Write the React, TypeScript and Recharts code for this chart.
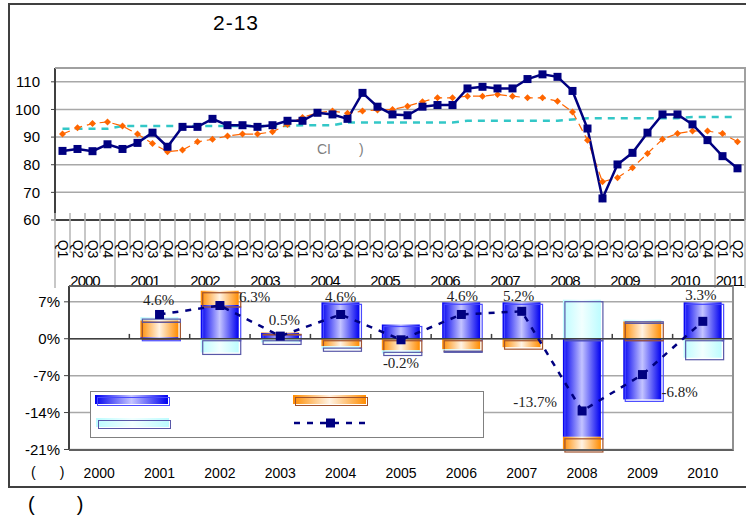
import React from 'react';
import { Bar, CartesianGrid, ComposedChart, LabelList, Line, ReferenceLine, XAxis, YAxis } from 'recharts';

// top panel: quarterly index 2000Q1 - 2011Q2
const YEARS = ['2000', '2001', '2002', '2003', '2004', '2005', '2006', '2007', '2008', '2009', '2010', '2011'];
const QUARTERS = ['Q1', 'Q2', 'Q3', 'Q4'];
const CI_INDEX = [
    85.0, 85.7, 84.9, 87.4, 85.7, 87.9, 91.6, 86.5, 93.7, 93.7, 96.6, 94.3,
    94.3, 93.7, 94.3, 95.9, 95.9, 98.8, 98.2, 96.6, 106.0, 101.0, 98.2, 97.9,
    101.0, 101.6, 101.6, 107.6, 108.2, 107.6, 107.6, 111.0, 112.7, 111.8, 106.7, 93.1,
    67.8, 80.1, 84.3, 91.6, 98.2, 98.2, 94.6, 88.9, 83.1, 78.7
];
const CI_LAGGED = [
    91.1, 93.4, 94.9, 95.5, 94.0, 91.1, 87.7, 84.7, 85.3, 88.3, 89.2, 90.4,
    91.1, 91.1, 91.9, 94.6, 97.1, 98.8, 99.4, 98.6, 99.4, 99.8, 100.0, 101.2,
    102.8, 104.2, 104.2, 104.8, 104.8, 105.4, 104.8, 104.2, 104.2, 103.0, 99.1, 88.9,
    73.8, 75.3, 78.9, 84.1, 89.2, 91.3, 92.2, 92.2, 91.3, 88.3
];
const CI_TREND = [
    93.0, 93.0, 93.0, 93.0, 94.0, 94.0, 94.0, 94.0, 94.0, 94.0, 94.0, 94.0,
    94.0, 94.0, 94.0, 94.0, 94.3, 94.3, 94.3, 95.3, 95.3, 95.3, 95.3, 95.3,
    95.3, 95.3, 95.3, 95.9, 95.9, 95.9, 95.9, 95.9, 95.9, 95.9, 96.4, 96.8,
    96.8, 96.8, 96.8, 96.8, 96.8, 96.8, 97.3, 97.3, 97.3, 97.3
];
const TOP_TICKS = [60, 70, 80, 90, 100, 110];

// bottom panel: yearly growth and contributions
const BAR_YEARS = ['2000', '2001', '2002', '2003', '2004', '2005', '2006', '2007', '2008', '2009', '2010'];
const CONTRIB_BLUE = [0, 0.3, 6.4, 1.1, 6.9, 2.7, 6.9, 6.9, -18.6, -11.5, 6.9];
const CONTRIB_ORANGE = [0, 3.2, 2.7, 0.1, -1.4, -2.2, -2.0, -1.6, -2.5, 3.3, 0];
const CONTRIB_CYAN = [0, 0.6, -2.6, -0.7, -0.6, -0.6, -0.2, 0, 7.4, 0.3, -3.6];
const GROWTH = [null, 4.6, 6.3, 0.5, 4.6, -0.2, 4.6, 5.2, -13.7, -6.8, 3.3];
const BOTTOM_TICKS = [-21, -14, -7, 0, 7];

// label placement around each growth point (dx, dy, anchor)
const LABEL_OFFSETS: [number, number, string][] = [
    [0, 0, 'middle'], [-1, -9, 'middle'], [19, -4, 'start'], [4, -11, 'middle'], [0, -12, 'middle'],
    [0, 28, 'middle'], [1, -13, 'middle'], [-3, -10, 'middle'], [-25, -4, 'end'], [19, 22, 'start'], [-2, -21, 'middle']
];

const topData = YEARS.flatMap(y => QUARTERS.map(q => ({ year: y, q })))
    .slice(0, CI_INDEX.length)
    .map((k, i) => ({ key: k.year + k.q, year: k.year, q: k.q, ci: CI_INDEX[i], lag: CI_LAGGED[i], trend: CI_TREND[i] }));

const bottomData = BAR_YEARS.map((y, i) => ({
    year: y,
    blue: CONTRIB_BLUE[i],
    orange: CONTRIB_ORANGE[i],
    cyan: CONTRIB_CYAN[i],
    growth: GROWTH[i]
}));

const NAVY = '#000080';
const FONT = '"Liberation Sans", Arial, sans-serif';

// bottom chart geometry (used for the tick marks sitting on the zero line)
const B_TOP = 36;
const B_H = 164;
const Y_ZERO = B_TOP + (10 / 31) * B_H;

const QuarterTick = (props: any) => {
    const { x, y } = props;
    const index = props.index ?? props.payload?.index ?? 0;
    const d = topData[index];
    if (!d) return <g />;
    const half = 7.5;
    const yearStart = d.q === 'Q1';
    const n = topData.filter(t => t.year === d.year).length;
    const last = index === topData.length - 1;
    return (
        <g>
            <line x1={x - half} x2={x - half} y1={y - 7} y2={y + (yearStart ? 68 : 33)} stroke="#b4b4b4" strokeWidth={1.5} />
            {last && <line x1={x + half} x2={x + half} y1={y - 7} y2={y + 68} stroke="#b4b4b4" strokeWidth={1.5} />}
            <text x={x} y={y + 29} transform={`rotate(90 ${x} ${y + 29})`} textAnchor="middle" dominantBaseline="central" fontSize={14} fill="#000">{d.q}</text>
            {yearStart && (
                <text x={x + (n - 1) * half} y={y + 66} textAnchor="middle" fontSize={15} letterSpacing={-1} fill="#000">{d.year}</text>
            )}
        </g>
    );
};

const YearTick = (props: any) => {
    const { x, y, payload } = props;
    const index = props.index ?? 0;
    return (
        <g>
            {index > 0 && <line x1={x - 30.2} x2={x - 30.2} y1={Y_ZERO - 5} y2={Y_ZERO} stroke="#404040" strokeWidth={1.5} />}
            <text x={x} y={y + 28} textAnchor="middle" fontSize={14} fill="#000">{payload.value}</text>
        </g>
    );
};

const squareDot = (size: number) => (props: any) => {
    const { cx, cy, index } = props;
    if (cx == null || cy == null || props.value == null) return <g key={`s-${index}`} />;
    return <rect key={`s-${index}`} x={cx - size / 2} y={cy - size / 2} width={size} height={size} fill={NAVY} />;
};

const diamondDot = (props: any) => {
    const { cx, cy, index } = props;
    if (cx == null || cy == null) return <g key={`d-${index}`} />;
    const r = 3.5;
    return <polygon key={`d-${index}`} points={`${cx},${cy - r} ${cx + r},${cy} ${cx},${cy + r} ${cx - r},${cy}`} fill="#ff6600" />;
};

const barShape = (fill: string, outline: string) => (props: any) => {
    const { x, y, width, height } = props;
    if (!height || !width) return <g />;
    const top = Math.min(y, y + height);
    const h = Math.abs(height);
    return (
        <g>
            <rect x={x} y={top} width={width} height={h} fill={fill} />
            <rect x={x + 2} y={top + 2} width={width} height={h} fill="none" stroke={outline} strokeWidth={1.2} />
        </g>
    );
};

const GrowthLabel = (props: any) => {
    const { x, y, value } = props;
    if (value == null || x == null) return null;
    const index = props.index ?? Math.round((x - 69 - 30.2) / 60.36);
    const [dx, dy, anchor] = LABEL_OFFSETS[index] || [0, -10, 'middle'];
    return (
        <text x={x + dx} y={y + dy} textAnchor={anchor as any} fontFamily='"Liberation Serif", serif' fontSize={15} fill="#222">
            {`${Number(value).toFixed(1)}%`}
        </text>
    );
};

const Swatch = ({ left, top, bg, outline }: { left: number; top: number; bg: string; outline: string }) => (
    <>
        <div style={{ position: 'absolute', left, top, width: 73, height: 9, background: bg }} />
        <div style={{ position: 'absolute', left: left + 2, top: top + 2, width: 73, height: 9, border: `1px solid ${outline}`, boxSizing: 'border-box' }} />
    </>
);

const BLUE_BG = 'linear-gradient(to right, #0000f0, #c4c4ff 50%, #0000f0)';
const ORANGE_BG = 'linear-gradient(to right, #ff8c00, #fff3e4 50%, #ff8c00)';
const CYAN_BG = 'linear-gradient(to right, #bdfcff, #f2ffff 50%, #bdfcff)';

export default function App() {
    return (
        <div style={{ position: 'absolute', left: 0, top: 0, width: 746, height: 522, overflow: 'hidden', background: '#fff', fontFamily: FONT }}>
            <svg width={0} height={0} style={{ position: 'absolute' }}>
                <defs>
                    <linearGradient id="gBlue" x1="0" y1="0" x2="1" y2="0">
                        <stop offset="0%" stopColor="#0000f0" />
                        <stop offset="50%" stopColor="#c4c4ff" />
                        <stop offset="100%" stopColor="#0000f0" />
                    </linearGradient>
                    <linearGradient id="gOrange" x1="0" y1="0" x2="1" y2="0">
                        <stop offset="0%" stopColor="#ff8c00" />
                        <stop offset="50%" stopColor="#fff3e4" />
                        <stop offset="100%" stopColor="#ff8c00" />
                    </linearGradient>
                    <linearGradient id="gCyan" x1="0" y1="0" x2="1" y2="0">
                        <stop offset="0%" stopColor="#bdfcff" />
                        <stop offset="50%" stopColor="#f2ffff" />
                        <stop offset="100%" stopColor="#bdfcff" />
                    </linearGradient>
                </defs>
            </svg>

            {/* outer frame */}
            <div style={{ position: 'absolute', left: 8, top: 3, width: 800, height: 485, border: '2px solid #404040', boxSizing: 'border-box' }} />

            <div style={{ position: 'absolute', left: 213, top: 11, fontSize: 21, letterSpacing: 1 }}>2-13</div>

            {/* top panel */}
            <div style={{ position: 'absolute', left: 0, top: 0 }}>
                <ComposedChart width={746} height={300} data={topData} margin={{ top: 68, right: 1, bottom: 0, left: 0 }}>
                    <CartesianGrid vertical={false} stroke="#a8a8a8" strokeWidth={1.5} />
                    <XAxis dataKey="key" scale="band" interval={0} height={80} tickLine={false} tickSize={0} tickMargin={0}
                        axisLine={{ stroke: '#404040', strokeWidth: 2 }} tick={<QuarterTick />} />
                    <YAxis domain={[60, 115]} ticks={TOP_TICKS} width={55} tickSize={4} tickMargin={11}
                        axisLine={{ stroke: '#404040', strokeWidth: 2 }} tickLine={{ stroke: '#404040' }}
                        tick={{ fontSize: 15, fill: '#000' }} />
                    <Line dataKey="trend" stroke="#33c7c7" strokeWidth={2.5} strokeDasharray="7 6" dot={false} isAnimationActive={false} />
                    <Line dataKey="lag" stroke="#ff6600" strokeWidth={1.2} strokeDasharray="8 5" dot={diamondDot} isAnimationActive={false} />
                    <Line dataKey="ci" stroke={NAVY} strokeWidth={2.5} dot={squareDot(8)} isAnimationActive={false} />
                </ComposedChart>
            </div>
            <div style={{ position: 'absolute', left: 55, top: 67, width: 691, height: 153, borderTop: '2px solid #a0a0a0', borderRight: '2px solid #a0a0a0', boxSizing: 'border-box' }} />
            <div style={{ position: 'absolute', left: 317, top: 141, fontSize: 14, color: '#808080' }}>
                CI<span style={{ marginLeft: 28 }}>)</span>
            </div>

            {/* bottom panel */}
            <div style={{ position: 'absolute', left: 0, top: 250 }}>
                <ComposedChart width={746} height={250} data={bottomData} stackOffset="sign" margin={{ top: B_TOP, right: 13, bottom: 0, left: 0 }}>
                    <CartesianGrid vertical={false} stroke="#a8a8a8" strokeWidth={1.5} />
                    <XAxis dataKey="year" interval={0} height={50} axisLine={false} tickLine={false} tickSize={0} tickMargin={0} tick={<YearTick />} />
                    <YAxis domain={[-21, 10]} ticks={BOTTOM_TICKS} width={69} tickSize={5} tickMargin={4}
                        tickFormatter={(v: number) => `${v}%`}
                        axisLine={{ stroke: '#404040', strokeWidth: 2 }} tickLine={{ stroke: '#404040' }}
                        tick={{ fontSize: 15, fill: '#000' }} />
                    <Bar dataKey="blue" stackId="c" barSize={38} shape={barShape('url(#gBlue)', '#4a4aff')} isAnimationActive={false} />
                    <Bar dataKey="orange" stackId="c" barSize={38} shape={barShape('url(#gOrange)', '#a0522d')} isAnimationActive={false} />
                    <Bar dataKey="cyan" stackId="c" barSize={38} shape={barShape('url(#gCyan)', '#5858a8')} isAnimationActive={false} />
                    <ReferenceLine y={0} stroke="#404040" strokeWidth={1.5} />
                    <Line dataKey="growth" stroke={NAVY} strokeWidth={2.5} strokeDasharray="6 7" dot={squareDot(9)} isAnimationActive={false}>
                        <LabelList dataKey="growth" content={<GrowthLabel />} />
                    </Line>
                </ComposedChart>
            </div>
            <div style={{ position: 'absolute', left: 69, top: 285, width: 665, height: 166, borderTop: '2px solid #606060', borderRight: '2px solid #909090', borderBottom: '2px solid #606060', boxSizing: 'border-box' }} />

            {/* legend */}
            <div style={{ position: 'absolute', left: 90, top: 391, width: 394, height: 47, border: '1.5px solid #808080', background: '#fff', boxSizing: 'border-box' }}>
                <Swatch left={4} top={3} bg={BLUE_BG} outline="#4a4aff" />
                <Swatch left={202} top={3} bg={ORANGE_BG} outline="#a0522d" />
                <Swatch left={5} top={26} bg={CYAN_BG} outline="#5858a8" />
                <svg style={{ position: 'absolute', left: 202, top: 25 }} width={80} height={12}>
                    <line x1={1} x2={78} y1={6} y2={6} stroke={NAVY} strokeWidth={2.5} strokeDasharray="6 7" />
                    <rect x={33} y={1.5} width={9} height={9} fill={NAVY} />
                </svg>
            </div>

            <div style={{ position: 'absolute', left: 31, top: 464, fontSize: 14 }}>(<span style={{ marginLeft: 24 }}>)</span></div>
            <div style={{ position: 'absolute', left: 28, top: 493, fontSize: 20 }}>(<span style={{ marginLeft: 42 }}>)</span></div>
        </div>
    );
}
